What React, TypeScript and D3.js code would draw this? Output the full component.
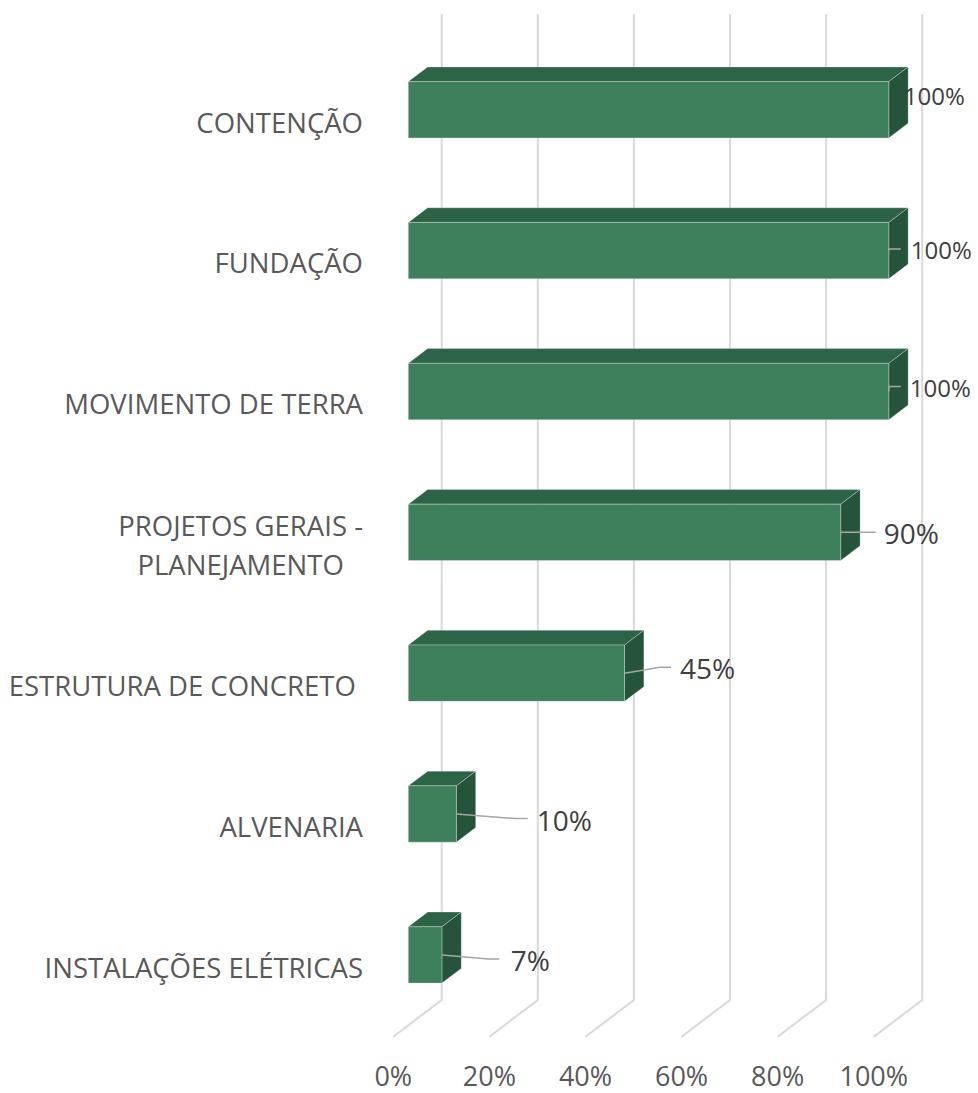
import React, { useEffect, useRef } from "react";
import * as d3 from "d3";

const categories: string[][] = [
  ["CONTENÇÃO"],
  ["FUNDAÇÃO"],
  ["MOVIMENTO DE TERRA"],
  ["PROJETOS GERAIS -", "PLANEJAMENTO"],
  ["ESTRUTURA DE CONCRETO "],
  ["ALVENARIA"],
  ["INSTALAÇÕES ELÉTRICAS"],
];
const values: number[] = [1.0, 1.0, 1.0, 0.9, 0.45, 0.1, 0.07];
const tickValues: number[] = [0, 0.2, 0.4, 0.6, 0.8, 1.0];

// manual data label layout (Excel-positioned labels), relative to bar end (front-right, center)
const LABEL_LAYOUT = [
  { leader: [] as [number, number][], dx: 15, dy: -5, size: 24 },
  { leader: [[0, 0], [0, -1.5], [12, -1.5]] as [number, number][], dx: 22, dy: 8.5, size: 24 },
  { leader: [[0, 0], [0, -5], [12, -5]] as [number, number][], dx: 21, dy: 5.5, size: 24 },
  { leader: [[0, 0], [35, 0]] as [number, number][], dx: 43, dy: 12, size: 28 },
  { leader: [[0, 0], [35.5, -6], [46.5, -6]] as [number, number][], dx: 55.5, dy: 6, size: 28 },
  { leader: [[0, 0], [58.7, 4.5], [71.4, 4.5]] as [number, number][], dx: 80.4, dy: 17, size: 28 },
  { leader: [[0, 0], [46.7, 4], [57.4, 4]] as [number, number][], dx: 68.8, dy: 16, size: 28 },
];

const W = 978;
const H = 1093;
const DX = 48.4;
const DY = 36.7;
const Z_FRONT = 0.31;
const Z_BACK = 0.71;
const FONT = "'Open Sans', 'DejaVu Sans', sans-serif";

export default function App() {
  const ref = useRef<SVGSVGElement | null>(null);

  useEffect(() => {
    const svg = d3.select(ref.current);
    svg.selectAll("*").remove();

    const x = d3.scaleLinear().domain([0, 1]).range([393.3, 393.3 + 480.5]);
    const y = d3
      .scaleBand<number>()
      .domain(d3.range(categories.length))
      .range([50.7, 1036.7])
      .paddingInner(0.6)
      .paddingOuter(0.3);
    const floorY = 1036.7;
    const topY = 50.7;
    const proj = (px: number, py: number, z: number): [number, number] => [px + z * DX, py - z * DY];

    // gridlines (back wall + floor)
    const grid = svg.append("g");
    tickValues.forEach((t) => {
      const [bx, by] = proj(x(t), floorY, 1);
      const [, ty] = proj(x(t), topY, 1);
      grid
        .append("path")
        .attr("d", d3.line()([[bx, ty], [bx, by], [x(t), floorY]]))
        .attr("fill", "none")
        .attr("stroke", "#d9d9d9")
        .attr("stroke-width", 2);
    });

    // axis labels
    svg
      .append("g")
      .selectAll("text")
      .data(tickValues)
      .join("text")
      .attr("x", (d) => x(d))
      .attr("y", 1086)
      .attr("text-anchor", "middle")
      .attr("font-family", FONT)
      .attr("font-size", 27)
      .attr("fill", "#595959")
      .text((d) => d3.format(".0%")(d));

    // bars
    const bars = svg.append("g");
    values.forEach((v, i) => {
      const y0 = y(i)!;
      const y1 = y0 + y.bandwidth();
      const x0 = x(0);
      const x1 = x(v);
      const f = (px: number, py: number) => proj(px, py, Z_FRONT);
      const b = (px: number, py: number) => proj(px, py, Z_BACK);
      const line = d3.line();
      const edge = "rgba(255,255,255,0.35)";
      // top face
      bars
        .append("path")
        .attr("d", line([f(x0, y0), b(x0, y0), b(x1, y0), f(x1, y0)]) + "Z")
        .attr("fill", "#2d6346")
        .attr("stroke", edge)
        .attr("stroke-width", 0.8);
      // side face
      bars
        .append("path")
        .attr("d", line([f(x1, y0), b(x1, y0), b(x1, y1), f(x1, y1)]) + "Z")
        .attr("fill", "#26543a")
        .attr("stroke", edge)
        .attr("stroke-width", 0.8);
      // front face
      bars
        .append("path")
        .attr("d", line([f(x0, y0), f(x1, y0), f(x1, y1), f(x0, y1)]) + "Z")
        .attr("fill", "#3e805c")
        .attr("stroke", edge)
        .attr("stroke-width", 0.8);

      // data label
      const [ex, ey] = f(x1, (y0 + y1) / 2);
      const L = LABEL_LAYOUT[i];
      if (L.leader.length > 1) {
        svg
          .append("path")
          .attr("d", d3.line()(L.leader.map(([a, c]) => [ex + a, ey + c] as [number, number])))
          .attr("fill", "none")
          .attr("stroke", "#a6a6a6")
          .attr("stroke-width", 1.5);
      }
      svg
        .append("text")
        .attr("x", ex + L.dx)
        .attr("y", ey + L.dy)
        .attr("font-family", FONT)
        .attr("font-size", L.size)
        .attr("fill", "#404040")
        .text(d3.format(".0%")(v));
    });

    // category labels
    const labelRight = 363;
    const lineH = 39.3;
    categories.forEach((lines, i) => {
      const c = y(i)! + y.bandwidth() / 2 + 11.5;
      const g = svg.append("g");
      const texts = lines.map((ln, k) =>
        g
          .append("text")
          .attr("y", c + (k - (lines.length - 1) / 2) * lineH)
          .attr("font-family", FONT)
          .attr("font-size", 27.5)
          .attr("fill", "#595959")
          .style("white-space", "pre")
          .text(ln)
      );
      if (lines.length === 1) {
        texts[0].attr("x", labelRight).attr("text-anchor", "end");
      } else {
        const maxW = d3.max(texts, (t) => (t.node() as SVGTextElement).getComputedTextLength()) || 0;
        texts.forEach((t) => t.attr("x", labelRight - maxW / 2).attr("text-anchor", "middle"));
      }
    });
  }, []);

  return (
    <div style={{ position: "absolute", left: 0, top: 0 }}>
      <svg ref={ref} width={W} height={H} style={{ display: "block", background: "#fff" }} />
    </div>
  );
}
